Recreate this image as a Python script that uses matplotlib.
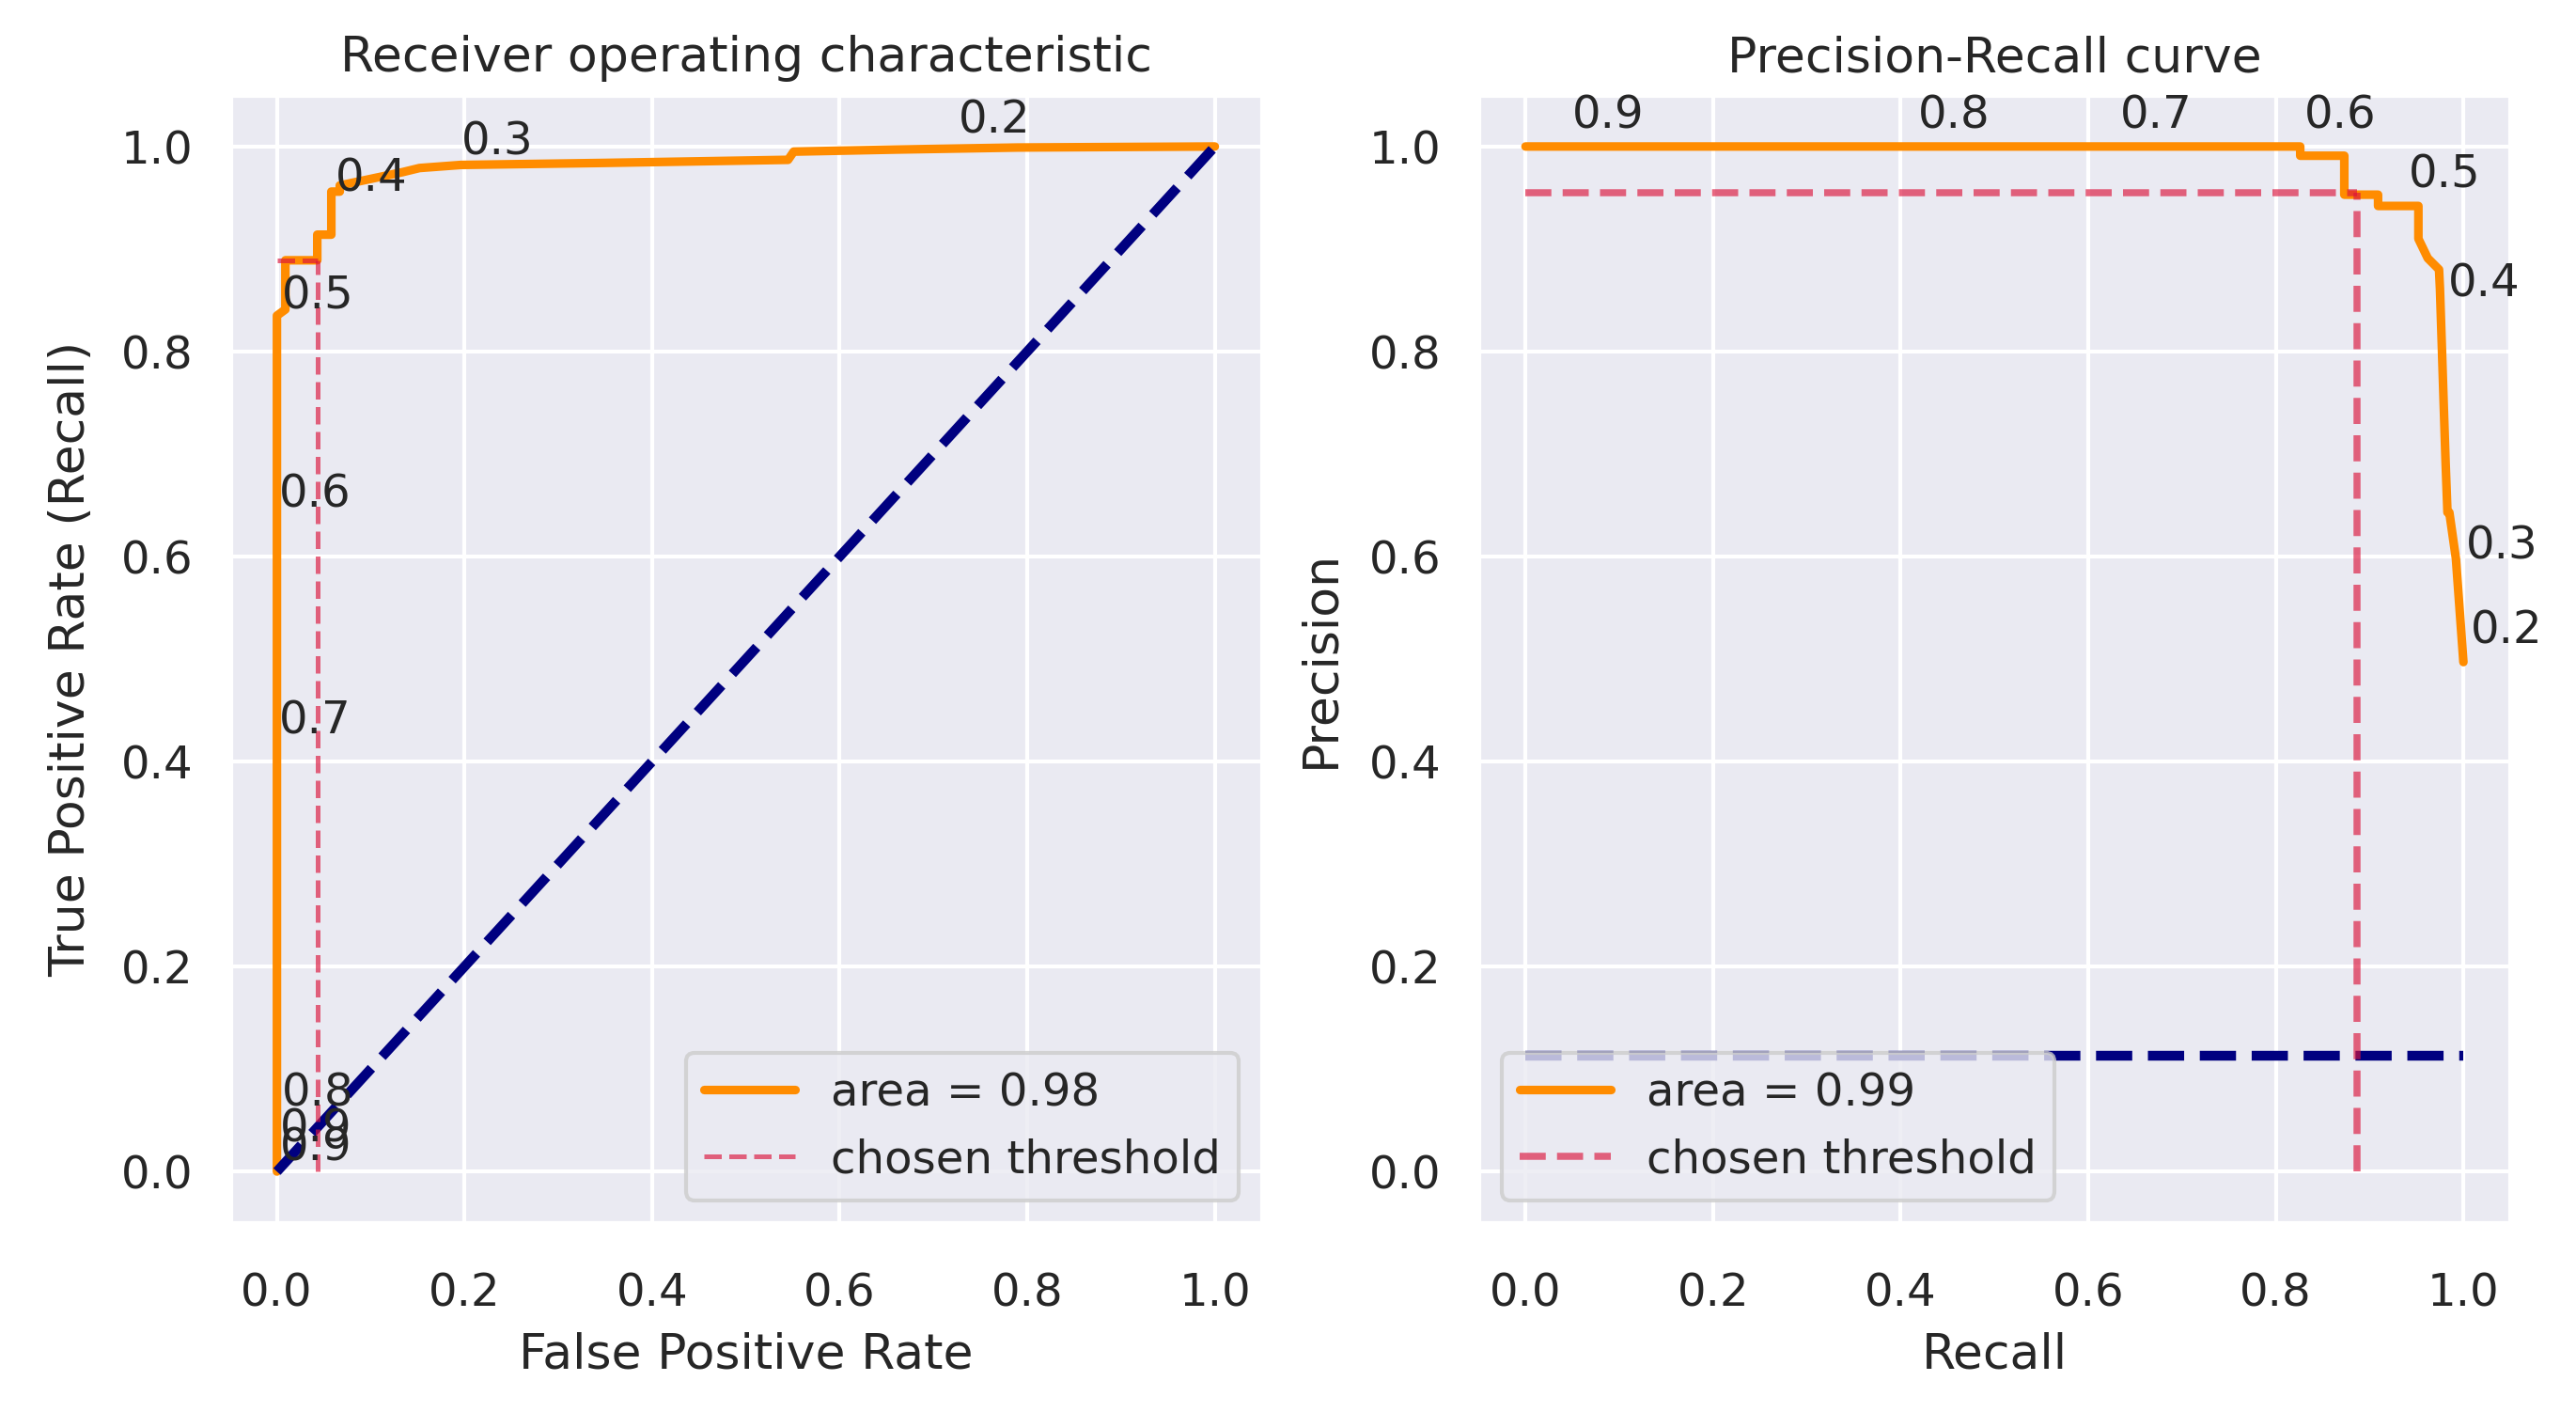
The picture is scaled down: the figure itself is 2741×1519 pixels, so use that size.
import matplotlib
matplotlib.use('Agg')
import matplotlib.pyplot as plt
import seaborn as sns

sns.set_theme(style='darkgrid')
plt.rcParams['xtick.labelsize'] = 11.6
plt.rcParams['ytick.labelsize'] = 11.6
plt.rcParams['axes.labelsize'] = 12.5
plt.rcParams['axes.titlesize'] = 12.5
plt.rcParams['legend.fontsize'] = 11.6
plt.rcParams['xtick.major.pad'] = 6.5

# ROC curve
fpr = [0.0, 0.0, 0.009, 0.009, 0.043, 0.043, 0.058, 0.058, 0.067, 0.067,
       0.134, 0.152, 0.196, 0.35, 0.545, 0.551, 0.66, 0.79, 1.0]
tpr = [0.0, 0.835, 0.841, 0.889, 0.889, 0.914, 0.914, 0.956, 0.956, 0.962,
       0.975, 0.979, 0.982, 0.984, 0.987, 0.995, 0.997, 0.999, 1.0]
roc_auc = 0.98
roc_chosen_fpr = 0.043
roc_chosen_tpr = 0.889
roc_thr_labels = ['0.2', '0.3', '0.4', '0.5', '0.6', '0.7', '0.8', '0.9', '0.9']
roc_thr_x = [0.727, 0.197, 0.062, 0.005, 0.002, 0.002, 0.005, 0.003, 0.003]
roc_thr_y = [1.013, 0.992, 0.956, 0.842, 0.648, 0.427, 0.064, 0.029, 0.011]

# Precision-Recall curve
recall = [0.0, 0.826, 0.826, 0.873, 0.873, 0.909, 0.909, 0.952, 0.952, 0.962,
          0.974, 0.975, 0.977, 0.979, 0.981, 0.983, 0.985, 0.992, 1.0]
precision = [1.0, 1.0, 0.991, 0.991, 0.953, 0.953, 0.942, 0.942, 0.91, 0.891,
             0.880, 0.861, 0.805, 0.748, 0.692, 0.643, 0.643, 0.598, 0.497]
pr_auc = 0.99
pr_baseline = 0.113
pr_chosen_recall = 0.887
pr_chosen_precision = 0.955
pr_thr_labels = ['0.2', '0.3', '0.4', '0.5', '0.6', '0.7', '0.8', '0.9']
pr_thr_x = [1.008, 1.003, 0.984, 0.942, 0.830, 0.634, 0.418, 0.050]
pr_thr_y = [0.515, 0.598, 0.854, 0.960, 1.018, 1.018, 1.018, 1.018]

fig = plt.figure(figsize=(2741 / 300, 1519 / 300), dpi=300)
ax1 = fig.add_axes([0.0893, 0.1437, 0.4005, 0.7896])
ax2 = fig.add_axes([0.574, 0.1437, 0.4005, 0.7896])

# left: ROC
ax1.plot(fpr, tpr, color='darkorange', lw=2.2, label='area = %0.2f' % roc_auc)
ax1.plot([0, 1], [0, 1], color='navy', lw=2.5, linestyle='--')
ax1.plot([roc_chosen_fpr, roc_chosen_fpr], [0, roc_chosen_tpr], color='crimson',
         alpha=0.65, lw=1.2, linestyle='--', label='chosen threshold')
ax1.plot([0, roc_chosen_fpr], [roc_chosen_tpr, roc_chosen_tpr], color='crimson',
         alpha=0.65, lw=1.2, linestyle='--')
for lbl, x, y in zip(roc_thr_labels, roc_thr_x, roc_thr_y):
    ax1.annotate(lbl, (x, y), fontsize=11.6)
ax1.set_xlabel('False Positive Rate')
ax1.set_ylabel('True Positive Rate (Recall)', labelpad=6.5)
ax1.set_title('Receiver operating characteristic')
ax1.legend(loc='lower right')

# right: precision-recall
ax2.plot(recall, precision, color='darkorange', lw=2.2, label='area = %0.2f' % pr_auc)
ax2.plot([0, 1], [pr_baseline, pr_baseline], color='navy', lw=2.5, linestyle='--')
ax2.plot([pr_chosen_recall, pr_chosen_recall], [0, pr_chosen_precision], color='crimson',
         alpha=0.65, lw=1.8, linestyle='--', label='chosen threshold')
ax2.plot([0, pr_chosen_recall], [pr_chosen_precision, pr_chosen_precision], color='crimson',
         alpha=0.65, lw=1.8, linestyle='--')
for lbl, x, y in zip(pr_thr_labels, pr_thr_x, pr_thr_y):
    ax2.annotate(lbl, (x, y), fontsize=11.6)
ax2.set_xlabel('Recall')
ax2.set_ylabel('Precision', labelpad=6.5)
ax2.set_title('Precision-Recall curve')
ax2.legend(loc='lower left')

fig.savefig('out.png', dpi=300)
